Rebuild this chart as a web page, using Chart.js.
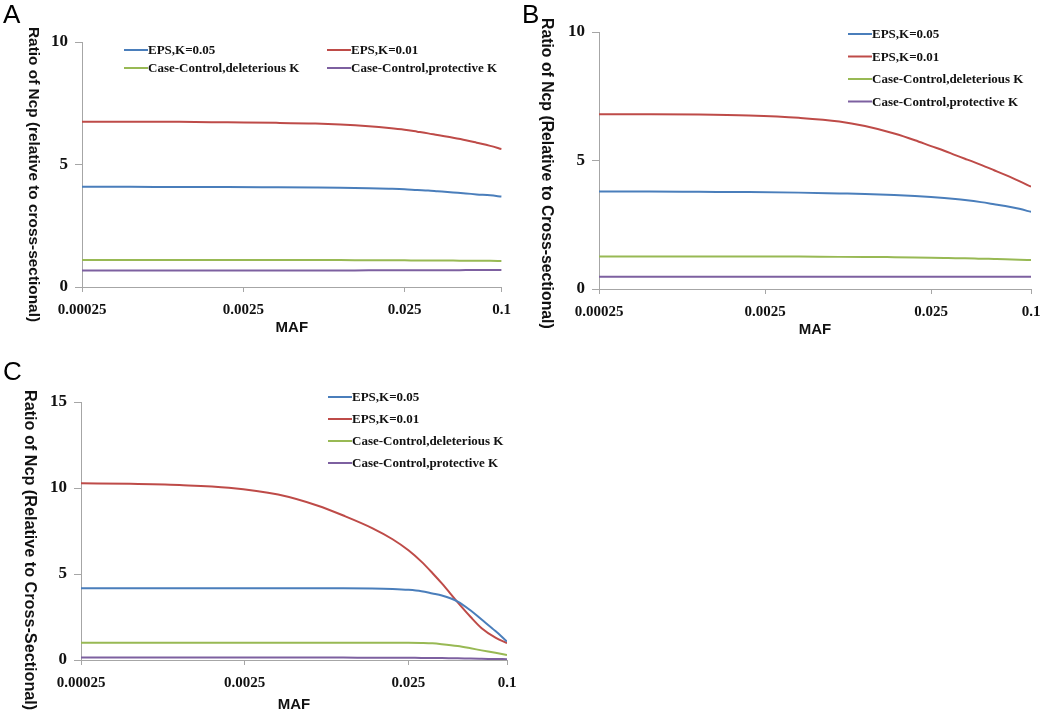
<!DOCTYPE html>
<html>
<head>
<meta charset="utf-8">
<script src="https://cdn.jsdelivr.net/npm/chart.js@4/dist/chart.umd.min.js"></script>
<style>
  body { margin: 0; background: #fff; }
  #wrap { position: relative; width: 1050px; height: 718px; overflow: hidden; }
  canvas { position: absolute; }
</style>
</head>
<body>
<div id="wrap">
  <canvas id="chartA" width="520" height="345" style="left:0;top:0"></canvas>
  <canvas id="chartB" width="530" height="345" style="left:520px;top:0"></canvas>
  <canvas id="chartC" width="530" height="363" style="left:0;top:355px"></canvas>
</div>
<script>
// MAF values (x, log scale) and axis ticks
const MAF = [0.00025, 0.0005, 0.001, 0.002, 0.004, 0.007, 0.01, 0.015, 0.02, 0.025,
             0.03, 0.035, 0.04, 0.05, 0.06, 0.07, 0.085, 0.1];
const X_TICKS = [0.00025, 0.0025, 0.025, 0.1];
const SERIES_NAMES = ["EPS,K=0.05", "EPS,K=0.01", "Case-Control,deleterious K", "Case-Control,protective K"];
const COLORS = ["#4a7ebb", "#be4b48", "#98b954", "#7d60a0"];

// Panel A
const A_EPS05 = [4.09, 4.09, 4.08, 4.08, 4.07, 4.06, 4.05, 4.03, 4.01, 3.99, 3.96, 3.94, 3.91, 3.86, 3.82, 3.78, 3.74, 3.69];
const A_EPS01 = [6.75, 6.75, 6.74, 6.72, 6.70, 6.67, 6.63, 6.56, 6.49, 6.42, 6.34, 6.27, 6.20, 6.09, 5.99, 5.89, 5.76, 5.63];
const A_DEL   = [1.10, 1.10, 1.10, 1.10, 1.10, 1.10, 1.10, 1.09, 1.09, 1.09, 1.08, 1.08, 1.08, 1.08, 1.07, 1.07, 1.07, 1.06];
const A_PROT  = [0.67, 0.67, 0.67, 0.67, 0.67, 0.67, 0.67, 0.68, 0.68, 0.68, 0.68, 0.68, 0.68, 0.68, 0.69, 0.69, 0.69, 0.69];

// Panel B
const B_EPS05 = [3.79, 3.79, 3.78, 3.77, 3.75, 3.72, 3.70, 3.66, 3.62, 3.58, 3.54, 3.50, 3.46, 3.38, 3.30, 3.23, 3.12, 3.00];
const B_EPS01 = [6.80, 6.80, 6.79, 6.75, 6.66, 6.52, 6.34, 6.05, 5.79, 5.56, 5.38, 5.21, 5.07, 4.83, 4.62, 4.44, 4.20, 3.98];
const B_DEL   = [1.26, 1.26, 1.26, 1.26, 1.26, 1.25, 1.25, 1.24, 1.23, 1.22, 1.21, 1.20, 1.20, 1.18, 1.17, 1.16, 1.14, 1.13];
const B_PROT  = [0.48, 0.48, 0.48, 0.48, 0.48, 0.48, 0.48, 0.48, 0.48, 0.48, 0.48, 0.48, 0.48, 0.48, 0.48, 0.48, 0.48, 0.48];

// Panel C
const C_EPS05 = [4.17, 4.17, 4.17, 4.17, 4.17, 4.17, 4.17, 4.16, 4.13, 4.08, 4.00, 3.87, 3.75, 3.40, 2.88, 2.35, 1.68, 1.07];
const C_EPS01 = [10.27, 10.24, 10.17, 10.02, 9.62, 8.97, 8.40, 7.67, 7.02, 6.38, 5.72, 5.06, 4.45, 3.35, 2.50, 1.85, 1.30, 0.98];
const C_DEL   = [1.00, 1.00, 1.00, 1.00, 1.00, 1.00, 1.00, 1.00, 1.00, 1.00, 0.99, 0.97, 0.92, 0.81, 0.68, 0.56, 0.42, 0.29];
const C_PROT  = [0.14, 0.14, 0.14, 0.14, 0.14, 0.14, 0.14, 0.13, 0.13, 0.13, 0.12, 0.12, 0.11, 0.10, 0.08, 0.07, 0.06, 0.05];

// draws panel letter, y title (reading top to bottom) and the legend
const decor = {
  id: "decor",
  afterDraw(chart, args, o) {
    const ctx = chart.ctx;
    ctx.save();
    ctx.fillStyle = "#000";
    ctx.font = '26px "Liberation Sans"';
    ctx.textAlign = "left";
    ctx.textBaseline = "alphabetic";
    ctx.fillText(o.letter, o.letterX, o.letterY);

    ctx.save();
    ctx.fillStyle = "#111";
    ctx.font = 'bold ' + o.titleSize + 'px "Liberation Sans"';
    ctx.translate(o.titleX, o.titleY);
    ctx.rotate(Math.PI / 2);
    ctx.textBaseline = "middle";
    ctx.fillText(o.title, 0, 0);
    ctx.restore();

    ctx.font = 'bold 13px "Liberation Serif"';
    ctx.textBaseline = "middle";
    chart.data.datasets.forEach((ds, i) => {
      const col = i % o.cols, row = Math.floor(i / o.cols);
      const x = o.legX + col * o.colGap, y = o.legY + row * o.rowGap;
      ctx.strokeStyle = ds.borderColor;
      ctx.lineWidth = 2;
      ctx.beginPath();
      ctx.moveTo(x, y);
      ctx.lineTo(x + 24, y);
      ctx.stroke();
      ctx.fillStyle = "#111";
      ctx.fillText(ds.label, x + 24, y + 1);
    });
    ctx.restore();
  }
};

function makeChart(id, series, yMax, area, xAxisH, titlePad, deco) {
  const axisColor = "#a6a6a6";
  return new Chart(document.getElementById(id), {
    type: "line",
    data: {
      datasets: series.map((vals, i) => ({
        label: SERIES_NAMES[i],
        data: MAF.map((m, j) => ({ x: m, y: vals[j] })),
        borderColor: COLORS[i],
        borderWidth: 2,
        pointRadius: 0,
        cubicInterpolationMode: "monotone",
        fill: false
      }))
    },
    options: {
      responsive: false,
      animation: false,
      devicePixelRatio: 1,
      layout: { padding: { left: 0, top: area.top, right: area.right, bottom: 0 } },
      plugins: { legend: { display: false }, tooltip: { enabled: false }, decor: deco },
      scales: {
        x: {
          type: "logarithmic",
          min: 0.00025,
          max: 0.1,
          afterBuildTicks: (s) => { s.ticks = X_TICKS.map(v => ({ value: v })); },
          afterFit: (s) => { s.height = xAxisH; },
          ticks: {
            callback: (v) => String(v),
            autoSkip: false,
            maxRotation: 0,
            padding: 9,
            color: "#111",
            font: { family: "Liberation Serif", weight: "bold", size: 15 }
          },
          grid: { drawOnChartArea: false, tickLength: 5, color: axisColor },
          border: { color: axisColor },
          title: {
            display: true,
            text: "MAF",
            color: "#111",
            padding: { top: 0, bottom: titlePad },
            font: { family: "Liberation Sans", weight: "bold", size: 15 }
          }
        },
        y: {
          type: "linear",
          min: 0,
          max: yMax,
          afterFit: (s) => { s.width = area.left; },
          ticks: {
            stepSize: 5,
            padding: 7,
            color: "#111",
            font: { family: "Liberation Serif", weight: "bold", size: 17 }
          },
          grid: { drawOnChartArea: false, tickLength: 7, color: axisColor },
          border: { color: axisColor }
        }
      }
    },
    plugins: [decor]
  });
}

makeChart("chartA", [A_EPS05, A_EPS01, A_DEL, A_PROT], 10,
  { left: 82, top: 42, right: 17 }, 58, 8,
  { letter: "A", letterX: 3, letterY: 23, title: "Ratio of Ncp (relative to cross-sectional)",
    titleX: 33, titleY: 27, titleSize: 15.4, legX: 124, legY: 50, cols: 2, colGap: 203, rowGap: 18 });

makeChart("chartB", [B_EPS05, B_EPS01, B_DEL, B_PROT], 10,
  { left: 79, top: 32, right: 19 }, 56, 6,
  { letter: "B", letterX: 2, letterY: 23, title: "Ratio of Ncp (Relative to Cross-sectional)",
    titleX: 26, titleY: 18, titleSize: 15.8, legX: 328, legY: 34, cols: 1, colGap: 0, rowGap: 22.5 });

makeChart("chartC", [C_EPS05, C_EPS01, C_DEL, C_PROT], 15,
  { left: 81, top: 47, right: 23 }, 58, 4,
  { letter: "C", letterX: 3, letterY: 25, title: "Ratio of Ncp (Relative to Cross-Sectional)",
    titleX: 29, titleY: 35, titleSize: 16.2, legX: 328, legY: 42, cols: 1, colGap: 0, rowGap: 22 });
</script>
</body>
</html>
